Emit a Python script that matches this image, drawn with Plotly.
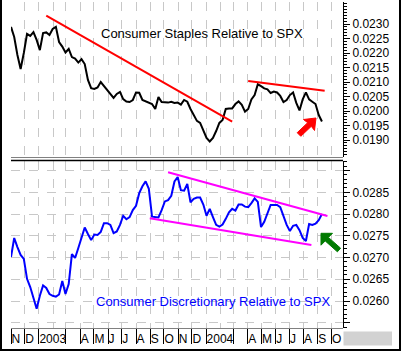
import pandas as pd
import plotly.graph_objects as go

# ---------------- data ----------------
week_start = "2002-11-01"
n_weeks = 98

staples = [0.02290, 0.02255, 0.02193, 0.02145, 0.02200, 0.02266, 0.02259, 0.02272, 0.02245, 0.02210,
           0.02269, 0.02271, 0.02262, 0.02283, 0.02290, 0.02238, 0.02222, 0.02202, 0.02214, 0.02186,
           0.02181, 0.02167, 0.02179, 0.02162, 0.02107, 0.02079, 0.02076, 0.02081, 0.02100, 0.02086,
           0.02074, 0.02062, 0.02045, 0.02059, 0.02066, 0.02041, 0.02033, 0.02031, 0.02038, 0.02064,
           0.02063, 0.02038, 0.02033, 0.02029, 0.02024, 0.02007, 0.02048, 0.02031, 0.02029, 0.02029,
           0.02032, 0.02028, 0.02029, 0.02022, 0.02038, 0.02032, 0.02007, 0.01988, 0.01966, 0.01959,
           0.01934, 0.01907, 0.01895, 0.01907, 0.01931, 0.01959, 0.01969, 0.02007, 0.02009, 0.02009,
           0.02024, 0.02033, 0.02021, 0.01998, 0.02007, 0.02040, 0.02055, 0.02092, 0.02086, 0.02078,
           0.02075, 0.02062, 0.02067, 0.02064, 0.02052, 0.02031, 0.02038, 0.02055, 0.02064, 0.02028,
           0.02002, 0.02040, 0.02064, 0.02040, 0.02032, 0.02024, 0.01986, 0.01964]

discretionary = [0.02701, 0.02745, 0.02724, 0.02706, 0.02697, 0.02651, 0.02632, 0.02606, 0.02582, 0.02612,
                 0.02636, 0.02630, 0.02616, 0.02612, 0.02610, 0.02615, 0.02646, 0.02616, 0.02639, 0.02708,
                 0.02699, 0.02722, 0.02745, 0.02769, 0.02754, 0.02740, 0.02753, 0.02752, 0.02759, 0.02779,
                 0.02779, 0.02775, 0.02756, 0.02760, 0.02775, 0.02796, 0.02788, 0.02793, 0.02809, 0.02819,
                 0.02848, 0.02864, 0.02875, 0.02858, 0.02794, 0.02793, 0.02792, 0.02809, 0.02829, 0.02832,
                 0.02842, 0.02875, 0.02885, 0.02855, 0.02854, 0.02869, 0.02827, 0.02835, 0.02838, 0.02838,
                 0.02822, 0.02796, 0.02812, 0.02793, 0.02775, 0.02771, 0.02776, 0.02789, 0.02804, 0.02812,
                 0.02808, 0.02822, 0.02822, 0.02817, 0.02816, 0.02825, 0.02836, 0.02828, 0.02770, 0.02782,
                 0.02802, 0.02821, 0.02821, 0.02821, 0.02816, 0.02796, 0.02775, 0.02761, 0.02773, 0.02775,
                 0.02763, 0.02745, 0.02738, 0.02777, 0.02775, 0.02778, 0.02786, 0.02800]

red_trend1_dates = ["2003-01-17", "2004-02-27"]
red_trend1_vals = [0.023286, 0.019631]
red_trend2_dates = ["2004-04-02", "2004-09-16"]
red_trend2_vals = [0.021034, 0.020700]
mag_upper_dates = ["2003-10-10", "2004-09-22"]
mag_upper_vals = [0.028960, 0.027955]
mag_lower_dates = ["2003-08-31", "2004-08-18"]
mag_lower_vals = [0.027902, 0.027288]

month_ticks = ["2002-11-01", "2002-12-01", "2003-01-01", "2003-03-01", "2003-04-01", "2003-05-01",
               "2003-06-01", "2003-07-01", "2003-08-01", "2003-09-01", "2003-10-01", "2003-11-01",
               "2003-12-01", "2004-01-01", "2004-03-01", "2004-04-01", "2004-05-01", "2004-06-01",
               "2004-07-01", "2004-08-01", "2004-09-01", "2004-10-01"]
month_labels = ["N", "D", "2003", "", "A", "M", "J", "J", "A", "S", "O", "N", "D", "2004", "",
                "A", "M", "J", "J", "A", "S", "O"]

top_ticks = [0.0190, 0.0195, 0.0200, 0.0205, 0.0210, 0.0215, 0.0220, 0.0225, 0.0230]
bot_ticks = [0.0255, 0.0260, 0.0265, 0.0270, 0.0275, 0.0280, 0.0285, 0.0290]
bot_labels = ["", "0.0260", "0.0265", "0.0270", "0.0275", "0.0280", "0.0285", ""]

dates = pd.date_range(week_start, periods=n_weeks, freq="7D")

# ---------------- layout geometry ----------------
W, H = 402, 352
ML, MR, MT, MB = 11, 59, 2, 24
PW, PH = W - ML - MR, H - MT - MB


def px(x):
    return (x - ML) / PW


def py(y):
    return (H - MB - y) / PH


FONT = "Liberation Sans, Arial, sans-serif"

fig = go.Figure()
fig.add_trace(go.Scatter(x=dates, y=staples, mode="lines", line=dict(color="black", width=2),
                         xaxis="x", yaxis="y", showlegend=False))
fig.add_trace(go.Scatter(x=red_trend1_dates, y=red_trend1_vals, mode="lines",
                         line=dict(color="#ff0000", width=2), xaxis="x", yaxis="y", showlegend=False))
fig.add_trace(go.Scatter(x=red_trend2_dates, y=red_trend2_vals, mode="lines",
                         line=dict(color="#ff0000", width=2), xaxis="x", yaxis="y", showlegend=False))
fig.add_trace(go.Scatter(x=dates, y=discretionary, mode="lines", line=dict(color="#0000ff", width=2),
                         xaxis="x2", yaxis="y2", showlegend=False))
fig.add_trace(go.Scatter(x=mag_upper_dates, y=mag_upper_vals, mode="lines",
                         line=dict(color="#ff00ff", width=2), xaxis="x2", yaxis="y2", showlegend=False))
fig.add_trace(go.Scatter(x=mag_lower_dates, y=mag_lower_vals, mode="lines",
                         line=dict(color="#ff00ff", width=2), xaxis="x2", yaxis="y2", showlegend=False))

xrange = ["2002-11-01", "2004-10-26"]
grid = dict(showgrid=True, griddash="dash", gridcolor="#c8c8c8", gridwidth=1)
minor_grid = dict(dtick="M1", tick0="2002-11-01", showgrid=True, griddash="dash",
                  gridcolor="#c8c8c8", gridwidth=1)

top_dom = [py(157), 1.0]
bot_dom = [0.0, py(161)]

fig.update_layout(
    width=W, height=H, margin=dict(l=ML, r=MR, t=MT, b=MB),
    paper_bgcolor="white", plot_bgcolor="white",
    font=dict(family=FONT, size=12, color="black"),
    xaxis=dict(type="date", range=xrange, anchor="y", domain=[0, 1],
               tickmode="array", tickvals=month_ticks, ticktext=[""] * len(month_ticks),
               ticks="", showticklabels=False, showline=False, zeroline=False,
               minor=minor_grid, **grid),
    xaxis2=dict(type="date", range=xrange, anchor="y2", domain=[0, 1], matches="x",
                tickmode="array", tickvals=month_ticks, ticktext=month_labels,
                ticks="outside", ticklen=15, tickcolor="black", tickwidth=1,
                ticklabelposition="outside right", tickangle=0, ticklabelstandoff=0,
                tickfont=dict(family=FONT, size=12, color="black"),
                showline=False, zeroline=False, minor=minor_grid, **grid),
    yaxis=dict(domain=top_dom, range=[0.018414, 0.023759], side="right", anchor="x",
               tickmode="array", tickvals=top_ticks, tickformat=".4f",
               ticks="outside", ticklen=6, tickcolor="black",
               showline=True, linecolor="black", linewidth=1, showgrid=False, zeroline=False,
               tickfont=dict(family=FONT, size=12, color="black"), ticklabelstandoff=0,
               minor=dict(dtick=0.0001, ticks="outside", ticklen=3, tickcolor="black", showgrid=False)),
    yaxis2=dict(domain=bot_dom, range=[0.025379, 0.029220], side="right", anchor="x2",
                tickmode="array", tickvals=bot_ticks, ticktext=bot_labels,
                ticks="outside", ticklen=6, tickcolor="black",
                showline=True, linecolor="black", linewidth=1, zeroline=False,
                tickfont=dict(family=FONT, size=12, color="black"), ticklabelstandoff=0,
                minor=dict(dtick=0.0001, ticks="outside", ticklen=3, tickcolor="black", showgrid=False),
                **grid),
)

# titles
fig.add_annotation(text="Consumer Staples Relative to SPX", xref="paper", yref="paper",
                   x=px(201.7), y=py(24), showarrow=False,
                   font=dict(family=FONT, size=13, color="black"))
fig.add_annotation(text="Consumer Discretionary Relative to SPX", xref="paper", yref="paper",
                   x=px(212.5), y=py(311), showarrow=False,
                   font=dict(family=FONT, size=13, color="#0000ff"))


def poly(points):
    d = "M " + " L ".join(f"{px(a):.5f},{py(b):.5f}" for a, b in points) + " Z"
    return d


# red arrow (up-right)
red_arrow = [(316, 118), (303.5, 119.5), (307.7, 122.7), (297.2, 132.7), (300.8, 136.3),
             (311.3, 126.3), (314.5, 130.5)]
fig.add_shape(type="path", path=poly(red_arrow), xref="paper", yref="paper",
              fillcolor="#ff0000", line=dict(color="#ff0000", width=1))
# green arrow (up-left)
green_arrow = [(321, 233.3), (332.5, 233.3), (328.4, 237.4), (340.6, 248.2), (337.4, 251.8),
               (325.2, 240.9), (321, 245.2)]
fig.add_shape(type="path", path=poly(green_arrow), xref="paper", yref="paper",
              fillcolor="#007a00", line=dict(color="#007a00", width=1))

# panel separators / borders
fig.add_shape(type="line", xref="paper", yref="paper", x0=0, x1=px(343), y0=py(157.5), y1=py(157.5),
              line=dict(color="#808080", width=1))
fig.add_shape(type="line", xref="paper", yref="paper", x0=0, x1=px(343), y0=py(160.5), y1=py(160.5),
              line=dict(color="black", width=1.5))
fig.add_shape(type="line", xref="paper", yref="paper", x0=0, x1=px(343), y0=py(328.5), y1=py(328.5),
              line=dict(color="#808080", width=1))
# hatched box in the date row
fig.add_shape(type="rect", xref="paper", yref="paper", x0=px(343.5), x1=px(392), y0=py(331.5), y1=py(345.5),
              fillcolor="#d2d2d2", line=dict(width=0))
# outer frame (left, bottom, right)
fig.add_shape(type="path", xref="paper", yref="paper",
              path=f"M {px(1):.5f},{py(0):.5f} L {px(1):.5f},{py(350):.5f} L {px(400):.5f},{py(350):.5f} L {px(400):.5f},{py(0):.5f}",
              line=dict(color="black", width=2))

fig.write_html("out.html")
